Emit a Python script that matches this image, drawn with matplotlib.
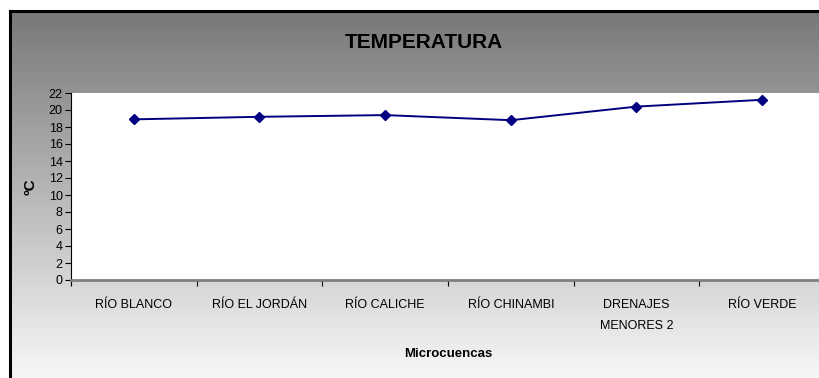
import numpy as np
import matplotlib
matplotlib.use("Agg")
from matplotlib import pyplot as plt
from matplotlib.lines import Line2D

# temperatura media por microcuenca (ºC)
microcuencas = ["RÍO BLANCO", "RÍO EL JORDÁN", "RÍO CALICHE", "RÍO CHINAMBI",
                "DRENAJES\nMENORES 2", "RÍO VERDE"]
temperatura = [18.9, 19.2, 19.4, 18.8, 20.4, 21.2]
y_ticks = list(range(0, 23, 2))

plt.rcParams["font.family"] = ["Liberation Sans", "DejaVu Sans"]

W, H = 820, 378
fig = plt.figure(figsize=(W / 100, H / 100), dpi=100)
fig.patch.set_facecolor("white")

# chart area with vertical gray gradient (frame runs off right/bottom edge)
fx0, fy0 = 10, 11
bg = fig.add_axes([fx0 / W, 0, 1 - fx0 / W + 0.02, (H - fy0) / H])
grad = np.linspace(0.47, 0.97, 256).reshape(-1, 1)
bg.imshow(np.dstack([grad, grad, grad]), aspect="auto", extent=[0, 1, 0, 1])
bg.set_xlim(0, 1)
bg.set_ylim(0, 1)
bg.axis("off")
fig.add_artist(Line2D([fx0 / W, fx0 / W], [0, 1 - fy0 / H], color="black", lw=2.2))
fig.add_artist(Line2D([fx0 / W, 1], [1 - fy0 / H, 1 - fy0 / H], color="black", lw=2.2))

# plot area
left, right, top, bottom = 71, 825, 93, 280
ax = fig.add_axes([left / W, (H - bottom) / H, (right - left) / W, (bottom - top) / H])
ax.set_facecolor("white")
x = np.arange(len(microcuencas))
ax.plot(x, temperatura, color="#000080", lw=1.4, marker="D", markersize=5,
        markerfacecolor="#000080", markeredgecolor="#000080")

ax.set_xlim(-0.5, len(microcuencas) - 0.5)
ax.set_ylim(0, 22)
ax.set_yticks(y_ticks)
ax.set_yticklabels([str(v) for v in y_ticks], fontsize=9)
ax.tick_params(axis="y", direction="out", length=4, width=0.8, pad=2, color="black")

ax.set_xticks(x)
ax.set_xticklabels(microcuencas, fontsize=9, linespacing=1.9)
ax.set_xticks(np.arange(-0.5, len(microcuencas)), minor=True)
ax.tick_params(axis="x", which="major", length=0, pad=14)
ax.tick_params(axis="x", which="minor", direction="out", length=4, width=0.8, color="black")

for s in ["top", "right"]:
    ax.spines[s].set_visible(False)
ax.spines["left"].set_color("black")
ax.spines["left"].set_linewidth(0.8)
ax.spines["bottom"].set_color("#808080")
ax.spines["bottom"].set_linewidth(2)

ax.set_xlabel("Microcuencas", fontsize=9.5, fontweight="bold", labelpad=12)
ax.set_ylabel("ºC", fontsize=11, fontweight="bold", labelpad=8)

fig.text(424 / W, 1 - 42 / H, "TEMPERATURA", fontsize=15, fontweight="bold",
         ha="center", va="center")

fig.savefig("out.png", dpi=100)
